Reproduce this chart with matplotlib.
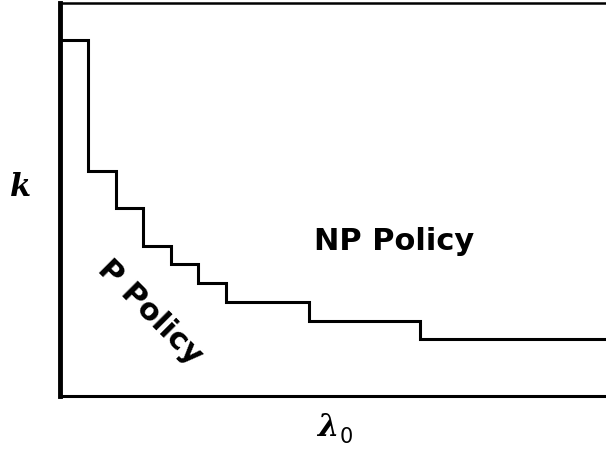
import matplotlib.pyplot as plt

# threshold curve k(lambda_0) (arbitrary units)
lam_breaks = [0, 28, 56, 83, 111, 138, 166, 249, 360, 546]
k_levels = [356, 225, 188, 150, 132, 113, 94, 75, 57, 57]

fig = plt.figure(figsize=(6.06, 4.49), dpi=100)
ax = fig.add_axes([60 / 606, 53 / 449, 546 / 606, 393 / 449])

ax.step(lam_breaks, k_levels, where='post', color='black', lw=2.2,
        solid_joinstyle='miter')

ax.set_xlim(0, 546)
ax.set_ylim(0, 393)
ax.set_xticks([])
ax.set_yticks([])
ax.spines['right'].set_visible(False)
ax.spines['left'].set_linewidth(3.5)
ax.spines['top'].set_linewidth(1.8)
ax.spines['bottom'].set_linewidth(2.2)

# region labels
ax.text(334, 155, 'NP Policy', fontsize=22, fontweight='bold',
        family='DejaVu Sans', ha='center', va='center')
ax.text(90, 84, 'P Policy', fontsize=22, fontweight='bold',
        family='DejaVu Sans', ha='center', va='center', rotation=-45)

# axis labels
fig.text(21 / 606, 1 - 188 / 449, 'k', fontsize=22, fontweight='bold',
         style='italic', family='DejaVu Serif', ha='center', va='center')
fig.text(338 / 606, 1 - 436 / 449, 'λ', fontsize=22, fontweight='bold',
         style='italic', family='DejaVu Serif', ha='right', va='baseline')
fig.text(340 / 606, 1 - 443 / 449, '0', fontsize=15,
         family='DejaVu Sans', ha='left', va='baseline')

fig.savefig('out.png', dpi=100)
